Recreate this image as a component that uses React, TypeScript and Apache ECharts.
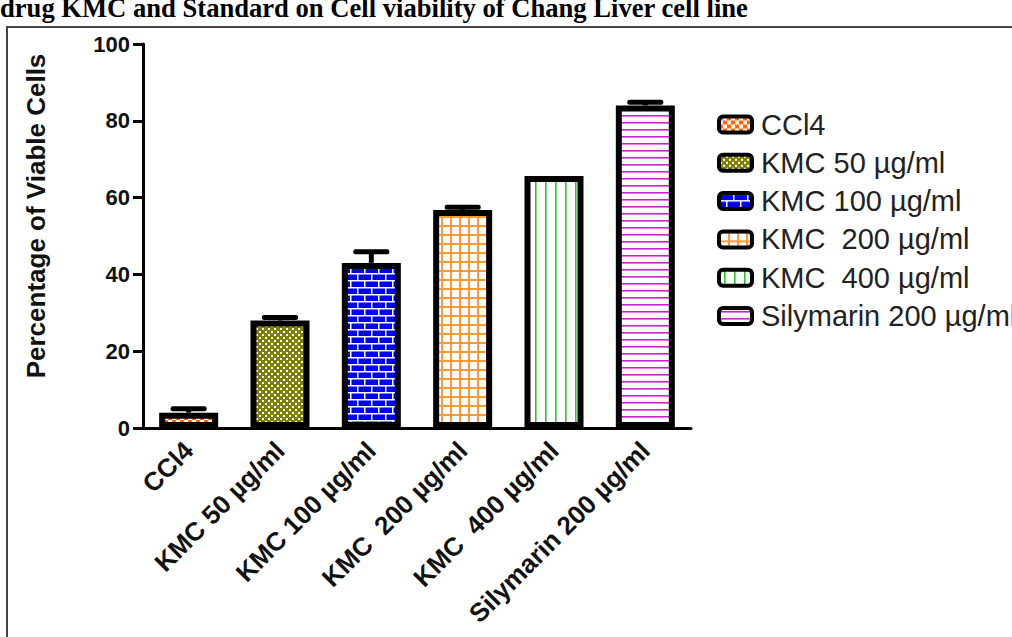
import React, { useEffect, useRef } from "react";
import * as echarts from "echarts";

const categories = [
  "CCl4",
  "KMC 50 µg/ml",
  "KMC 100 µg/ml",
  "KMC  200 µg/ml",
  "KMC  400 µg/ml",
  "Silymarin 200 µg/ml",
];
const legendNames = [
  "CCl4",
  "KMC 50 µg/ml",
  "KMC 100 µg/ml",
  "KMC  200 µg/ml",
  "KMC  400 µg/ml",
  "Silymarin 200 µg/ml",
];
const viability = [4.0, 28.0, 43.0, 56.8, 65.6, 84.0];
const errors = [1.0, 0.8, 2.9, 0.7, 0.0, 0.8];
const yMin = 0;
const yMax = 100;
const yStep = 20;
const titleText = "drug KMC and Standard on Cell viability of Chang Liver cell line";
const yName = "Percentage of Viable Cells";

type Draw = (ctx: CanvasRenderingContext2D, w: number, h: number) => void;

function makePattern(w: number, h: number, draw: Draw) {
  const c = document.createElement("canvas");
  c.width = w;
  c.height = h;
  const ctx = c.getContext("2d") as CanvasRenderingContext2D;
  draw(ctx, w, h);
  return { image: c.toDataURL(), repeat: "repeat", imageWidth: w, imageHeight: h } as any;
}

function buildPatterns() {
  const checker = makePattern(8, 8, (ctx) => {
    ctx.fillStyle = "#ffffff";
    ctx.fillRect(0, 0, 8, 8);
    ctx.fillStyle = "#ff6600";
    ctx.fillRect(0, 0, 4, 4);
    ctx.fillRect(4, 4, 4, 4);
  });
  const dots = makePattern(6, 6, (ctx) => {
    ctx.fillStyle = "#808000";
    ctx.fillRect(0, 0, 6, 6);
    ctx.fillStyle = "#ffffff";
    ctx.fillRect(1, 1, 2, 2);
    ctx.fillRect(4, 4, 2, 2);
  });
  const brick = makePattern(14, 14, (ctx) => {
    ctx.fillStyle = "#0000ff";
    ctx.fillRect(0, 0, 14, 14);
    ctx.fillStyle = "#ffffff";
    ctx.fillRect(0, 0, 14, 1.5);
    ctx.fillRect(0, 7, 14, 1.5);
    ctx.fillRect(0, 0, 1.5, 7);
    ctx.fillRect(7, 7, 1.5, 7);
  });
  const grid = makePattern(9, 9, (ctx) => {
    ctx.fillStyle = "#ffffff";
    ctx.fillRect(0, 0, 9, 9);
    ctx.fillStyle = "#ff9933";
    ctx.fillRect(0, 0, 9, 2);
    ctx.fillRect(0, 0, 2, 9);
  });
  const vlines = makePattern(10, 10, (ctx) => {
    ctx.fillStyle = "#ffffff";
    ctx.fillRect(0, 0, 10, 10);
    ctx.fillStyle = "#22cc22";
    ctx.fillRect(5, 0, 1.6, 10);
  });
  const hlines = makePattern(7, 7, (ctx) => {
    ctx.fillStyle = "#ffffff";
    ctx.fillRect(0, 0, 7, 7);
    ctx.fillStyle = "#cc22cc";
    ctx.fillRect(0, 3, 7, 1.6);
  });
  return [checker, dots, brick, grid, vlines, hlines];
}

export default function App() {
  const ref = useRef<HTMLDivElement>(null);

  useEffect(() => {
    document.body.style.margin = "0";
    if (!ref.current) return;
    const chart = echarts.init(ref.current, null, { renderer: "svg" });
    const patterns = buildPatterns();

    const barSeries = legendNames.map((name, k) => ({
      type: "bar",
      name,
      data: categories.map((_, i) => (i === k ? viability[k] : "-")),
      barWidth: 59,
      barGap: "-100%",
      itemStyle: { color: patterns[k], borderColor: "#000", borderWidth: 6 },
      z: 3,
    }));

    const errSeries = {
      type: "custom",
      name: "err",
      z: 5,
      renderItem: (params: any, api: any) => {
        const i = api.value(0);
        const v = api.value(1);
        const e = api.value(2);
        if (!e) return { type: "group", children: [] };
        const base = api.coord([i, v]);
        const top = api.coord([i, v + e]);
        return {
          type: "group",
          children: [
            {
              type: "rect",
              shape: { x: base[0] - 2.5, y: top[1], width: 5, height: base[1] - top[1] },
              style: { fill: "#000" },
            },
            {
              type: "rect",
              shape: { x: base[0] - 18, y: top[1] - 2.5, width: 36, height: 5, r: 2 },
              style: { fill: "#000" },
            },
          ],
        };
      },
      data: categories.map((_, i) => [i, viability[i], errors[i]]),
    };

    chart.setOption({
      animation: false,
      backgroundColor: "#ffffff",
      grid: { left: 143, right: 321, top: 44, bottom: 209, containLabel: false },
      legend: {
        orient: "vertical",
        left: 712,
        top: 105,
        itemWidth: 33,
        itemHeight: 16,
        itemGap: 9.3,
        icon: "roundRect",
        itemStyle: { borderColor: "#000", borderWidth: 4 },
        textStyle: {
          fontSize: 29,
          fontFamily: "Liberation Sans, Arial, sans-serif",
          color: "#222",
          lineHeight: 29,
          padding: [0, 0, 0, 4],
        },
        data: legendNames,
      },
      xAxis: {
        type: "category",
        data: categories,
        axisLine: { show: true, lineStyle: { color: "#000", width: 3 } },
        axisTick: { show: false },
        axisLabel: {
          interval: 0,
          rotate: 45,
          margin: 18,
          fontSize: 26,
          fontWeight: "bold",
          fontFamily: "Liberation Sans, Arial, sans-serif",
          color: "#111",
        },
      },
      yAxis: {
        type: "value",
        min: yMin,
        max: yMax,
        interval: yStep,
        axisLine: { show: true, lineStyle: { color: "#000", width: 3 } },
        axisTick: { show: true, length: 10, lineStyle: { color: "#000", width: 3 } },
        splitLine: { show: false },
        axisLabel: {
          fontSize: 22,
          fontWeight: "bold",
          margin: 13,
          fontFamily: "Liberation Sans, Arial, sans-serif",
          color: "#111",
        },
      },
      graphic: [
        {
          type: "polyline",
          shape: { points: [[7, 637], [7, 27], [1012, 27]] },
          style: { stroke: "#444", lineWidth: 2, fill: null },
          silent: true,
        },
        {
          type: "text",
          x: 0,
          y: -6,
          style: {
            text: titleText,
            font: 'bold 26.6px "Liberation Serif", "Times New Roman", serif',
            fill: "#000",
            verticalAlign: "top",
          },
          silent: true,
        },
        {
          type: "text",
          x: 36,
          y: 216,
          rotation: Math.PI / 2,
          style: {
            text: yName,
            font: 'bold 26px "Liberation Sans", Arial, sans-serif',
            fill: "#111",
            align: "center",
            verticalAlign: "middle",
          },
          silent: true,
        },
      ],
      series: [...barSeries, errSeries],
    });

    return () => {
      chart.dispose();
    };
  }, []);

  return <div ref={ref} style={{ width: 1012, height: 637 }} />;
}
